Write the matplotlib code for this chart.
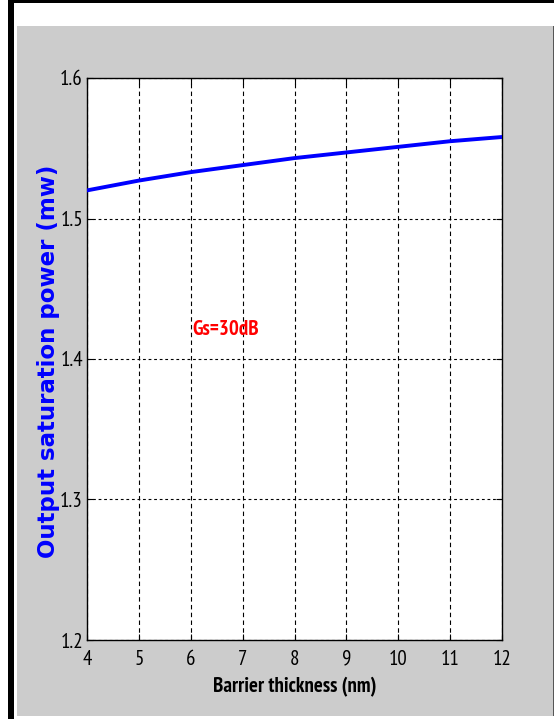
import numpy as np
import matplotlib.pyplot as plt
from matplotlib.patches import Rectangle

# ==========================================================
# DATA
# ==========================================================

barrier = [4, 5, 6, 7, 8, 9, 10, 11, 12]
p_sat = [1.520, 1.527, 1.533, 1.538, 1.543, 1.547, 1.551, 1.555, 1.558]

x_ticks = [4, 5, 6, 7, 8, 9, 10, 11, 12]
y_ticks = [1.2, 1.3, 1.4, 1.5, 1.6]

narrow = ['PT Sans Narrow', 'Archivo Narrow', 'Liberation Sans', 'DejaVu Sans']

# ==========================================================
# FIGURE
# ==========================================================

W, H = 554, 719
fig = plt.figure(figsize=(W / 100, H / 100), dpi=100)
fig.patch.set_facecolor('white')


def band(x0, y0, x1, y1, color):
    # rectangle in pixel coords (origin top-left), drawn below the axes
    fig.patches.append(Rectangle((x0 / W, 1 - y1 / H), (x1 - x0) / W, (y1 - y0) / H,
                                 transform=fig.transFigure, facecolor=color,
                                 edgecolor='none', zorder=-5))


band(17, 26, 553, 716, '#cccccc')
band(553, 26, 554.5, 716, '#555555')
band(8, 0, 14, 719, 'black')
band(8, 0, 554, 3, 'black')

ax = fig.add_axes([87 / W, 1 - 640 / H, (502 - 87) / W, (640 - 78) / H])
ax.set_facecolor('white')

ax.plot(barrier, p_sat, color='#0000ff', linewidth=2.8, zorder=3)

ax.set_xlim(4, 12)
ax.set_ylim(1.2, 1.6)
ax.set_xticks(x_ticks)
ax.set_yticks(y_ticks)
ax.set_xticklabels([str(v) for v in x_ticks], family=narrow, fontsize=15)
ax.set_yticklabels([f"{v:.1f}" for v in y_ticks], family=narrow, fontsize=15)

ax.tick_params(direction='in', length=4, width=0.8, top=True, right=True)
ax.tick_params(axis='x', pad=7)
ax.tick_params(axis='y', pad=3)

ax.xaxis.grid(True, color='black', linestyle=(0, (4, 3)), linewidth=0.8)
ax.yaxis.grid(True, color='black', linestyle=(0, (2.5, 2.5)), linewidth=0.8)

for s in ax.spines.values():
    s.set_linewidth(1.0)

ax.set_xlabel("Barrier thickness (nm)", family=narrow, fontsize=15,
              fontweight='bold', labelpad=6)
ax.set_ylabel("Output saturation power (mw)", family=['DejaVu Sans'],
              fontsize=16.5, fontweight='bold', color='#0000ff')
ax.yaxis.set_label_coords(-0.065, 0.495)

ax.text(6.67, 1.421, "Gs=30dB", color='red', family=narrow, fontsize=15,
        fontweight='bold', ha='center', va='center')

fig.savefig("out.png", dpi=100)
